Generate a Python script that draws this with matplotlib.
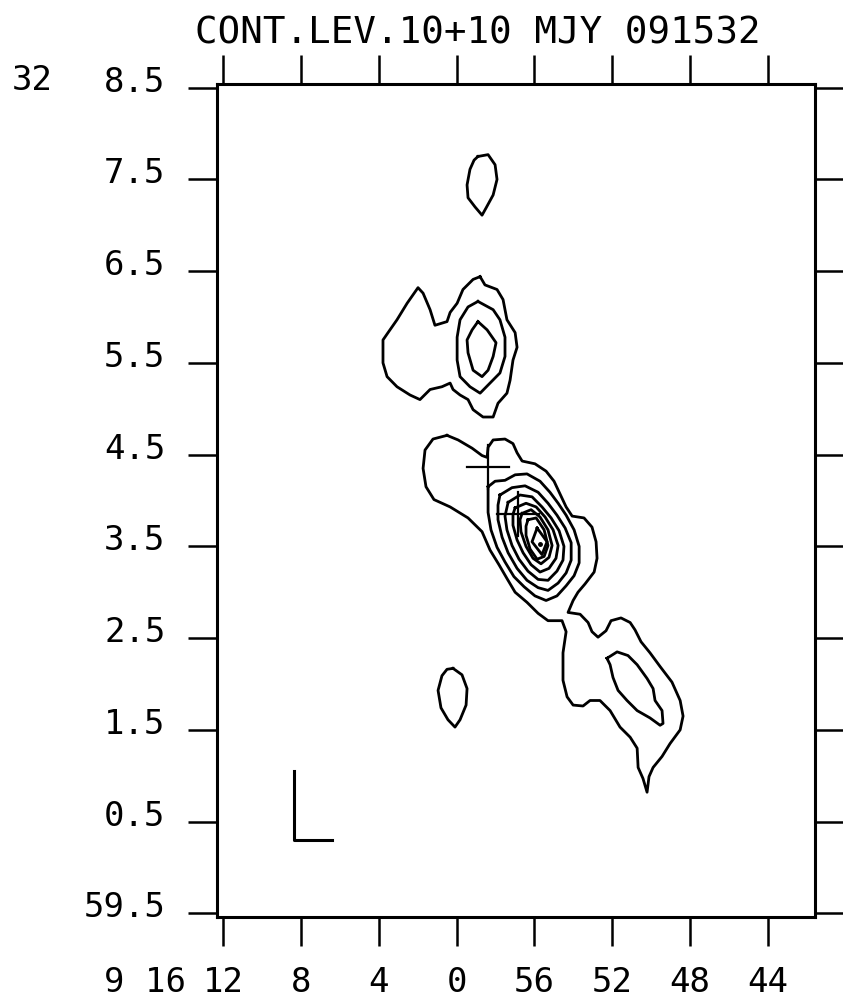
import matplotlib
matplotlib.use("Agg")
from matplotlib import pyplot as plt
from matplotlib.transforms import ScaledTranslation

# RA offsets in seconds from 9h16m00s, Dec in arcmin from 32d00'
ra_ticks = [12, 8, 4, 0, -4, -8, -12, -16]
ra_labels = ["12", "8", "4", "0", "56", "52", "48", "44"]
ra_prefix = "9 16"
dec_ticks = [8.5, 7.5, 6.5, 5.5, 4.5, 3.5, 2.5, 1.5, 0.5, -0.5]
dec_labels = ["8.5", "7.5", "6.5", "5.5", "4.5", "3.5", "2.5", "1.5", "0.5", "59.5"]
dec_prefix = "32"

# northern knot, 10 mJy
knot_n_ra = [-1.10, -1.62, -1.98, -2.08, -1.88, -1.52, -1.31, -0.95, -0.59, -0.54, -0.69, -0.90, -1.10]
knot_n_dec = [7.75, 7.77, 7.66, 7.50, 7.33, 7.19, 7.11, 7.20, 7.30, 7.44, 7.61, 7.71, 7.75]

# northern lobe, 10 / 20 / 30 mJy
lobe_10_ra = [-1.21, -1.46, -2.08, -2.39, -2.59, -3.01, -3.11, -2.90, -2.75, -2.59, -2.13, -1.88, -1.36,
              -0.85, -0.59, -0.18, 0.18, 0.33, 0.75, 1.36, 1.88, 2.39, 3.06, 3.57, 3.78, 3.78, 3.52,
              3.06, 2.54, 1.98, 1.72, 1.36, 1.11, 0.49, 0.33, -0.03, -0.33, -0.85, -1.21]
lobe_10_dec = [6.44, 6.35, 6.30, 6.19, 5.97, 5.83, 5.67, 5.53, 5.31, 5.17, 5.06, 4.91, 4.91,
               4.99, 5.10, 5.15, 5.21, 5.28, 5.24, 5.21, 5.10, 5.15, 5.24, 5.35, 5.50, 5.75, 5.83,
               5.97, 6.15, 6.32, 6.26, 6.08, 5.91, 5.95, 6.05, 6.15, 6.30, 6.41, 6.44]
lobe_20_ra = [-1.10, -1.88, -2.23, -2.49, -2.49, -2.23, -1.72, -1.21, -0.69, -0.18, -0.03, -0.03, -0.18, -0.59, -1.10]
lobe_20_dec = [6.17, 6.08, 5.97, 5.78, 5.57, 5.39, 5.28, 5.17, 5.24, 5.35, 5.53, 5.78, 5.97, 6.11, 6.17]
lobe_30_ra = [-1.10, -1.57, -2.03, -1.88, -1.62, -1.31, -0.85, -0.59, -0.54, -0.80, -1.10]
lobe_30_dec = [5.95, 5.86, 5.72, 5.57, 5.42, 5.35, 5.42, 5.61, 5.75, 5.86, 5.95]

# core + jet + southern tail, 10 mJy envelope
core_10_ra = [0.49, -0.08, -0.80, -1.31, -1.57, -1.62, -1.88, -2.49, -2.90, -3.11, -3.37, -4.03, -4.60,
              -5.01, -5.32, -5.63, -5.94, -6.55, -6.96, -7.17, -7.22, -7.07, -6.60, -6.24, -5.99,
              -5.73, -6.35, -6.76, -6.96, -7.27, -7.68, -7.94, -8.45, -8.92, -9.17, -9.48, -9.94,
              -10.46, -11.07, -11.49, -11.64, -11.49, -10.97, -10.56, -10.10, -9.89, -9.79, -9.58,
              -9.33, -9.28, -8.92, -8.40, -7.89, -7.37, -6.86, -6.50, -5.99, -5.68, -5.47, -5.47,
              -5.63, -5.42, -4.70, -4.19, -3.62, -3.01, -2.59, -2.18, -1.72, -1.31, -0.59, 0.33,
              1.16, 1.57, 1.72, 1.62, 1.21, 0.49]
core_10_dec = [4.71, 4.66, 4.57, 4.49, 4.47, 4.58, 4.66, 4.67, 4.62, 4.52, 4.43, 4.40, 4.32,
               4.21, 4.07, 3.93, 3.83, 3.81, 3.71, 3.55, 3.37, 3.22, 3.09, 3.00, 2.91,
               2.78, 2.76, 2.67, 2.57, 2.51, 2.58, 2.69, 2.72, 2.67, 2.59, 2.46, 2.34,
               2.19, 2.02, 1.82, 1.65, 1.50, 1.35, 1.21, 1.09, 0.99, 0.82, 0.97,
               1.09, 1.30, 1.42, 1.53, 1.71, 1.82, 1.82, 1.76, 1.77, 1.86, 2.04, 2.34,
               2.57, 2.69, 2.69, 2.77, 2.89, 3.00, 3.15, 3.30, 3.46, 3.66, 3.81, 3.93,
               4.01, 4.15, 4.35, 4.55, 4.67, 4.71]

# core, 20 .. 80 mJy
core_20_ra = [-1.62, -1.98, -2.49, -3.01, -3.62, -4.29, -4.80, -5.22, -5.63, -6.04, -6.30, -6.30,
              -6.04, -5.63, -5.16, -4.60, -4.03, -3.47, -2.95, -2.49, -2.08, -1.77, -1.62, -1.62]
core_20_dec = [4.15, 4.21, 4.22, 4.28, 4.29, 4.21, 4.09, 3.97, 3.84, 3.68, 3.50, 3.32,
               3.18, 3.07, 2.96, 2.91, 2.96, 3.06, 3.17, 3.33, 3.49, 3.68, 3.87, 4.15]
core_30_ra = [-2.23, -2.85, -3.52, -4.19, -4.70, -5.16, -5.58, -5.89, -5.89, -5.63, -5.22, -4.70,
              -4.19, -3.62, -3.11, -2.65, -2.34, -2.13, -2.13, -2.23]
core_30_dec = [4.06, 4.14, 4.16, 4.09, 3.97, 3.84, 3.70, 3.54, 3.35, 3.21, 3.10, 3.02,
               3.05, 3.13, 3.26, 3.43, 3.60, 3.79, 3.95, 4.06]
core_40_ra = [-2.65, -3.26, -3.88, -4.39, -4.86, -5.27, -5.52, -5.47, -5.16, -4.70, -4.19, -3.67,
              -3.21, -2.85, -2.59, -2.49, -2.65]
core_40_dec = [3.98, 4.06, 4.04, 3.93, 3.81, 3.67, 3.50, 3.35, 3.23, 3.13, 3.14, 3.23,
               3.36, 3.51, 3.68, 3.83, 3.98]
core_50_ra = [-3.01, -3.57, -4.09, -4.55, -4.96, -5.22, -5.11, -4.75, -4.29, -3.83, -3.42, -3.11,
              -2.90, -2.90, -3.01]
core_50_dec = [3.92, 3.97, 3.93, 3.82, 3.68, 3.51, 3.37, 3.26, 3.22, 3.30, 3.43, 3.57,
               3.73, 3.85, 3.92]
core_60_ra = [-3.37, -3.83, -4.29, -4.70, -4.91, -4.75, -4.34, -3.93, -3.57, -3.31, -3.26, -3.37]
core_60_dec = [3.86, 3.90, 3.82, 3.68, 3.51, 3.38, 3.31, 3.37, 3.50, 3.66, 3.79, 3.86]
core_70_ra = [-3.67, -4.09, -4.50, -4.70, -4.50, -4.14, -3.78, -3.57, -3.57, -3.67]
core_70_dec = [3.79, 3.81, 3.68, 3.51, 3.39, 3.36, 3.47, 3.62, 3.72, 3.79]
core_80_ra = [-4.14, -4.65, -4.39, -3.88, -4.14]
core_80_dec = [3.70, 3.55, 3.41, 3.55, 3.70]
peak_ra, peak_dec = -4.29, 3.53

# southern tail, 20 mJy
tail_20_ra = [-7.73, -8.25, -8.81, -9.28, -9.79, -10.10, -10.20, -10.56, -10.61, -10.46, -9.94,
              -9.28, -8.76, -8.30, -8.04, -7.89, -7.73]
tail_20_dec = [2.28, 2.35, 2.31, 2.21, 2.06, 1.95, 1.82, 1.71, 1.57, 1.55, 1.63,
               1.71, 1.82, 1.93, 2.07, 2.21, 2.28]

# isolated southern knot, 10 mJy
knot_s_ra = [0.18, -0.28, -0.54, -0.49, -0.18, 0.08, 0.44, 0.80, 0.95, 0.75, 0.49, 0.18]
knot_s_dec = [2.17, 2.10, 1.95, 1.77, 1.61, 1.53, 1.61, 1.74, 1.93, 2.09, 2.16, 2.17]

# optical positions (crosses) and scale bar
cross_ra = [-1.62, -3.16]
cross_dec = [4.37, 3.85]
cross_half_ra = 1.1
cross_half_dec = 0.24
bar_ra = [8.35, 8.35, 6.40]
bar_dec = [1.05, 0.30, 0.30]

contours = [
    (knot_n_ra, knot_n_dec),
    (lobe_10_ra, lobe_10_dec), (lobe_20_ra, lobe_20_dec), (lobe_30_ra, lobe_30_dec),
    (core_10_ra, core_10_dec), (core_20_ra, core_20_dec), (core_30_ra, core_30_dec),
    (core_40_ra, core_40_dec), (core_50_ra, core_50_dec), (core_60_ra, core_60_dec),
    (core_70_ra, core_70_dec), (core_80_ra, core_80_dec),
    (tail_20_ra, tail_20_dec), (knot_s_ra, knot_s_dec),
]

plt.rcParams["font.family"] = "DejaVu Sans Mono"

fig = plt.figure(figsize=(8.43, 10), dpi=100)
ax = fig.add_axes([0.2574, 0.083, 0.7094, 0.833])

for ra, dec in contours:
    ax.plot(ra, dec, color="black", lw=2.0, solid_joinstyle="round")
ax.plot([peak_ra], [peak_dec], "o", color="black", ms=2.5)

for r, d in zip(cross_ra, cross_dec):
    ax.plot([r + cross_half_ra, r - cross_half_ra], [d, d], color="black", lw=1.6)
    ax.plot([r, r], [d - cross_half_dec, d + cross_half_dec], color="black", lw=1.6)

ax.plot(bar_ra, bar_dec, color="black", lw=2.2)

ax.set_xlim(12.31, -18.42)
ax.set_ylim(-0.54, 8.54)

ax.set_xticks(ra_ticks)
ax.set_xticklabels(ra_labels, fontsize=24.5)
ax.set_yticks(dec_ticks)
ax.set_yticklabels(dec_labels, fontsize=24.5)

tick_len, x_pad = 21, 14
ax.tick_params(axis="x", direction="out", length=tick_len, width=1.8, top=True, bottom=True,
               labeltop=False, pad=x_pad)
ax.tick_params(axis="y", direction="out", length=tick_len, width=1.8, left=True, right=True,
               labelright=False, pad=16)
for s in ax.spines.values():
    s.set_linewidth(2.2)

# dec labels sit a little above their ticks
for lab in ax.get_yticklabels():
    lab.set_transform(lab.get_transform() + ScaledTranslation(0, 0.09, fig.dpi_scale_trans))

# hours/minutes prefix on the same row as the RA labels
row = ax.get_xaxis_transform() + ScaledTranslation(0, -(tick_len + x_pad) / 72, fig.dpi_scale_trans)
ax.text(13.9, 0, ra_prefix, transform=row, fontsize=24.5, ha="right", va="top", clip_on=False)

fig.text(12 / 843, 1 - 80 / 1000, dec_prefix, fontsize=24.5, ha="left", va="center")
fig.text(0.567, 1 - 33 / 1000, "CONT.LEV.10+10 MJY 091532", fontsize=27, ha="center", va="center")

fig.savefig("out.png", dpi=100, facecolor="white")
